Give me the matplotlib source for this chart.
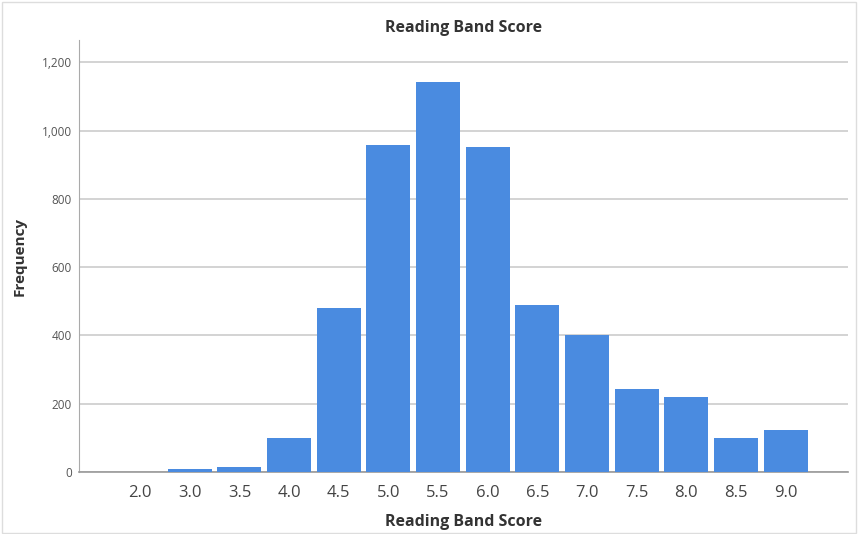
import matplotlib.pyplot as plt
import numpy as np

# band scores and their counts
scores = ["2.0", "3.0", "3.5", "4.0", "4.5", "5.0", "5.5", "6.0",
          "6.5", "7.0", "7.5", "8.0", "8.5", "9.0"]
freq = [1, 10, 15, 100, 480, 957, 1143, 953, 489, 401, 243, 219, 101, 122]
yticks = [0, 200, 400, 600, 800, 1000, 1200]

plt.rcParams["font.family"] = ["Open Sans", "DejaVu Sans"]

fig = plt.figure(figsize=(8.59, 5.34), dpi=100)
ax = fig.add_axes([0.092, 0.116, 0.895, 0.809])

x = np.arange(len(scores))
ax.bar(x, freq, width=0.885, color="#4A8BE0", zorder=3)

ax.set_xlim(-1.23, len(scores) - 1 + 1.25)
ax.set_ylim(0, 1265)
ax.set_xticks(x)
ax.set_xticklabels(scores, fontsize=12, color="#444444")
ax.set_yticks(yticks)
ax.set_yticklabels([f"{v:,}" for v in yticks], fontsize=8.5, color="#555555")
ax.tick_params(axis="both", length=0)
ax.tick_params(axis="x", pad=9)
ax.tick_params(axis="y", pad=5)

ax.grid(axis="y", color="#cccccc", linewidth=1.2, zorder=0)
for s in ["top", "right"]:
    ax.spines[s].set_visible(False)
ax.spines["left"].set_color("#aaaaaa")
ax.spines["bottom"].set_color("#999999")
ax.spines["bottom"].set_linewidth(1.2)

ax.set_title("Reading Band Score", fontsize=11.5, fontweight="bold",
             color="#333333", pad=6)
ax.set_xlabel("Reading Band Score", fontsize=11.5, fontweight="bold",
              color="#333333", labelpad=10)
ax.set_ylabel("Frequency", fontsize=11, fontweight="bold",
              color="#333333", labelpad=11)

# faint frame around the whole image
fig.patches.append(plt.Rectangle((0.002, 0.002), 0.994, 0.995,
                                 transform=fig.transFigure, fill=False,
                                 edgecolor="#dddddd", linewidth=1))

fig.savefig("out.png", dpi=100)
